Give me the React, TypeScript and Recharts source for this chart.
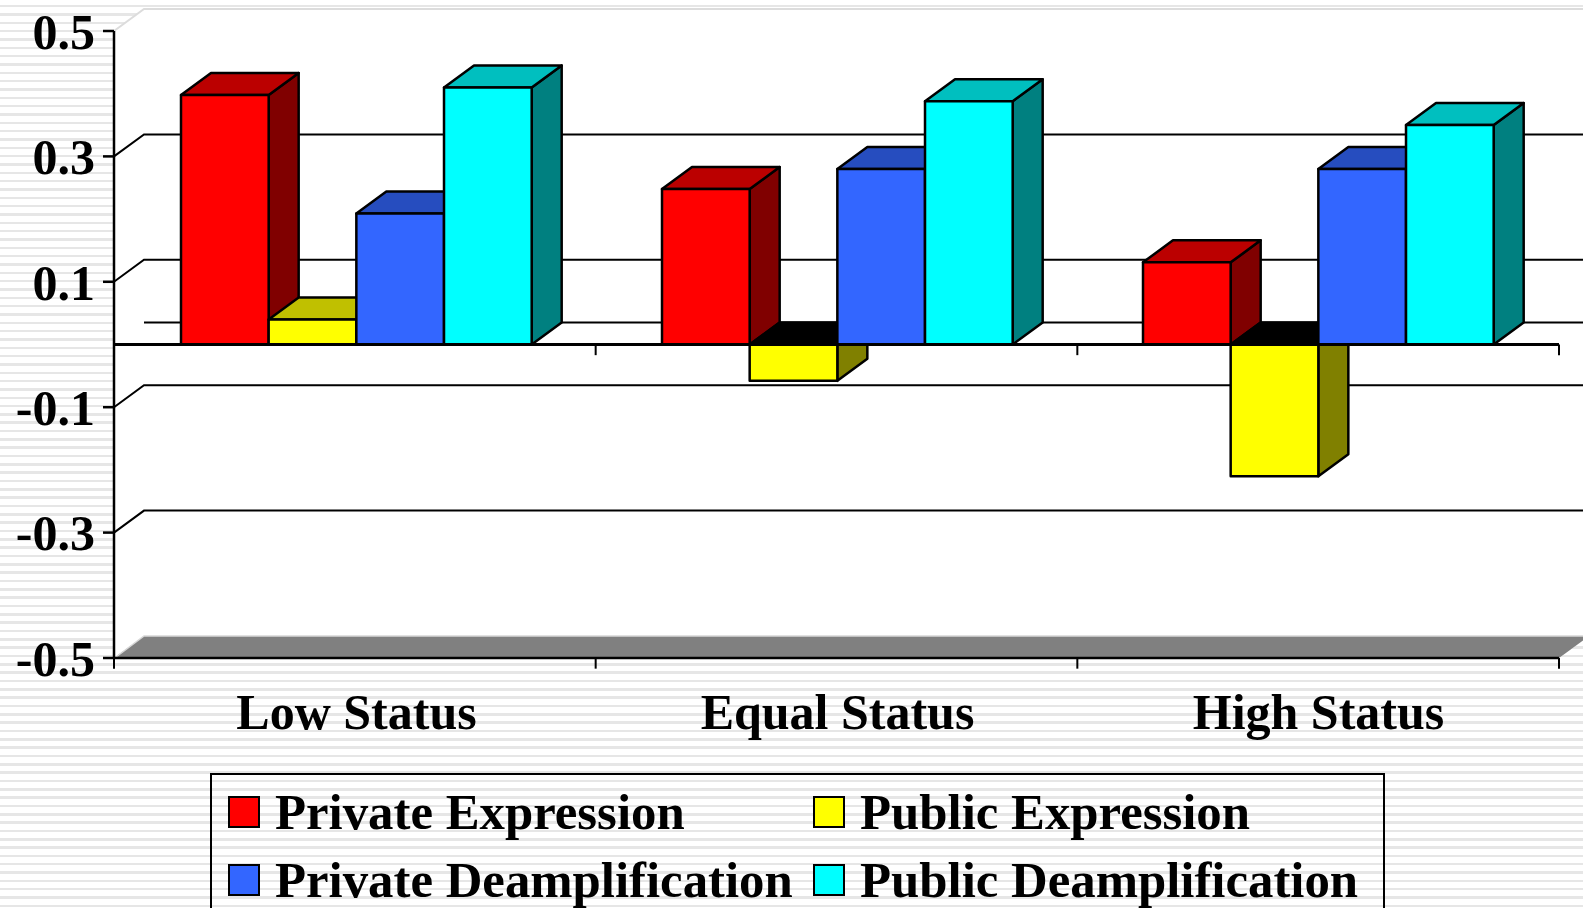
import React from "react";
import {
  BarChart,
  Bar,
  XAxis,
  YAxis,
  CartesianGrid,
  Legend,
  ReferenceLine,
} from "recharts";

const categories = ["Low Status", "Equal Status", "High Status"];
const privateExpression = [0.398, 0.248, 0.131];
const publicExpression = [0.04, -0.058, -0.21];
const privateDeamplification = [0.209, 0.28, 0.28];
const publicDeamplification = [0.41, 0.388, 0.35];
const yTicks = [-0.5, -0.3, -0.1, 0.1, 0.3, 0.5];
const gridValues = [0.5, 0.3, 0.1, 0, -0.1, -0.3, -0.5];
const bandCenters = [0.5, 1.5, 2.5];
const bandEdges = [0, 1, 2, 3];

const data = categories.map((name, i) => ({
  name,
  slot: bandCenters[i],
  privateExpression: privateExpression[i],
  publicExpression: publicExpression[i],
  privateDeamplification: privateDeamplification[i],
  publicDeamplification: publicDeamplification[i],
}));

const WIDTH = 1583;
const HEIGHT = 908;
const PLOT_HEIGHT = 627;
const DEPTH_X = 30;
const DEPTH_Y = 22;
const FONT = '"Liberation Serif", "Times New Roman", serif';

// front, top and side faces of a bar with fake perspective
const bar3d = (topColor: string, sideColor: string) => (props: any) => {
  const { x, y, width, height, fill } = props;
  const negative = height < 0;
  const top = negative ? y + height : y;
  const h = Math.abs(height);
  const right = x + width;
  const bottom = top + h;
  const line = { stroke: "#000", strokeWidth: 2.5, strokeLinejoin: "round" as const };
  return (
    <g>
      <polygon
        points={`${right},${top} ${right + DEPTH_X},${top - DEPTH_Y} ${right + DEPTH_X},${bottom - DEPTH_Y} ${right},${bottom}`}
        fill={sideColor}
        {...line}
      />
      <polygon
        points={`${x},${top} ${x + DEPTH_X},${top - DEPTH_Y} ${right + DEPTH_X},${top - DEPTH_Y} ${right},${top}`}
        fill={negative ? "#000" : topColor}
        {...line}
      />
      <rect x={x} y={top} width={width} height={h} fill={fill} {...line} />
    </g>
  );
};

// back wall, floor and the lines that run along the wall
const wallLine = (props: any) => {
  const { x1, x2, y1, index, key } = props;
  const backX = x1 + DEPTH_X;
  const backY = y1 - DEPTH_Y;
  const farX = x2 + DEPTH_X;
  const value = gridValues[index];
  if (value === 0.5) {
    const floorY = y1 + PLOT_HEIGHT;
    return (
      <g key={key}>
        <polygon
          points={`${x1},${y1} ${backX},${backY} ${farX},${backY} ${farX},${floorY - DEPTH_Y} ${x2},${floorY} ${x1},${floorY}`}
          fill="#fff"
        />
        <path
          d={`M${x1},${y1} L${backX},${backY} L${farX},${backY}`}
          fill="none"
          stroke="#dcdcdc"
          strokeWidth={2}
        />
      </g>
    );
  }
  if (value === -0.5) {
    return (
      <g key={key}>
        <polygon
          points={`${x1},${y1} ${backX},${backY} ${farX},${backY} ${x2},${y1}`}
          fill="#808080"
        />
        <path
          d={`M${x1 + 2},${y1 - 1} L${backX},${backY} L${farX},${backY}`}
          fill="none"
          stroke="#d8d8d8"
          strokeWidth={1.5}
        />
      </g>
    );
  }
  return (
    <path
      key={key}
      d={
        value === 0
          ? `M${backX},${backY} L${farX},${backY}`
          : `M${x1},${y1} L${backX},${backY} L${farX},${backY}`
      }
      fill="none"
      stroke="#000"
      strokeWidth={2}
    />
  );
};

const LegendBox = ({ payload }: any) => (
  <div
    style={{
      position: "relative",
      width: 1175,
      height: 140,
      boxSizing: "border-box",
      border: "2px solid #000",
      borderBottom: "none",
      fontFamily: FONT,
      fontWeight: "bold",
      fontSize: 50.8,
      color: "#000",
    }}
  >
    {(payload || []).map((entry: any, i: number) => {
      const left = i % 2 === 0 ? 16 : 601;
      const top = i < 2 ? 21 : 89;
      return (
        <React.Fragment key={entry.value}>
          <div
            style={{
              position: "absolute",
              left,
              top,
              width: 32,
              height: 32,
              boxSizing: "border-box",
              background: entry.color,
              border: "2px solid #000",
            }}
          />
          <div
            style={{
              position: "absolute",
              left: left + 47,
              top: top - 11,
              lineHeight: "54px",
              whiteSpace: "nowrap",
            }}
          >
            {entry.value}
          </div>
        </React.Fragment>
      );
    })}
  </div>
);

const tickFont = { fontSize: 50, fontWeight: "bold", fontFamily: FONT, fill: "#000" };
const axisStroke = { stroke: "#000", strokeWidth: 2.5 };

export default function App() {
  return (
    <div
      style={{
        position: "absolute",
        left: 0,
        top: 0,
        width: WIDTH,
        height: HEIGHT,
        overflow: "hidden",
        background:
          "repeating-linear-gradient(to bottom, #fff 0px, #fff 5px, #e6e6e6 5px, #e6e6e6 7.5px, #fff 7.5px, #fff 8.33px)",
      }}
    >
      <BarChart
        width={WIDTH}
        height={HEIGHT}
        data={data}
        margin={{ top: 31, right: 24, bottom: 0, left: 0 }}
        barSize={87.67}
        barGap={0}
      >
        <CartesianGrid
          vertical={false}
          horizontal={wallLine as any}
          horizontalValues={gridValues}
          syncWithTicks={false}
        />
        <XAxis
          dataKey="name"
          height={250}
          tickLine={false}
          tickMargin={29}
          padding={{ left: 2, right: 0 }}
          axisLine={axisStroke}
          tick={tickFont}
          interval={0}
        />
        <XAxis xAxisId="edges" dataKey="slot" type="number" domain={[0, 3]} allowDataOverflow hide />
        <YAxis
          width={114}
          domain={[-0.5, 0.5]}
          ticks={yTicks}
          interval={0}
          tickSize={11}
          tickMargin={8}
          tickLine={axisStroke}
          axisLine={axisStroke}
          tick={tickFont}
          tickFormatter={(v: number) => v.toFixed(1)}
        />
        <Bar
          dataKey="privateExpression"
          name="Private Expression"
          fill="#ff0000"
          shape={bar3d("#bb0000", "#800000")}
          isAnimationActive={false}
        />
        <Bar
          dataKey="publicExpression"
          name="Public Expression"
          fill="#ffff00"
          shape={bar3d("#c0c000", "#808000")}
          isAnimationActive={false}
        />
        <Bar
          dataKey="privateDeamplification"
          name="Private Deamplification"
          fill="#3366ff"
          shape={bar3d("#264dbf", "#1a3380")}
          isAnimationActive={false}
        />
        <Bar
          dataKey="publicDeamplification"
          name="Public Deamplification"
          fill="#00ffff"
          shape={bar3d("#00bfbf", "#008080")}
          isAnimationActive={false}
        />
        <ReferenceLine y={0} stroke="#000" strokeWidth={3} />
        {bandEdges.map((edge) => (
          <ReferenceLine
            key={`zero-${edge}`}
            xAxisId="edges"
            segment={[
              { x: edge, y: 0 },
              { x: edge, y: -0.017 },
            ]}
            stroke="#000"
            strokeWidth={2}
            ifOverflow="visible"
          />
        ))}
        {bandEdges.map((edge) => (
          <ReferenceLine
            key={`floor-${edge}`}
            xAxisId="edges"
            segment={[
              { x: edge, y: -0.5 },
              { x: edge, y: -0.517 },
            ]}
            stroke="#000"
            strokeWidth={2}
            ifOverflow="visible"
          />
        ))}
        <Legend
          layout="horizontal"
          align="center"
          verticalAlign="middle"
          itemSorter={null}
          content={<LegendBox />}
          wrapperStyle={{ left: 210, top: 773, width: 1175, height: 140 }}
        />
      </BarChart>
    </div>
  );
}
